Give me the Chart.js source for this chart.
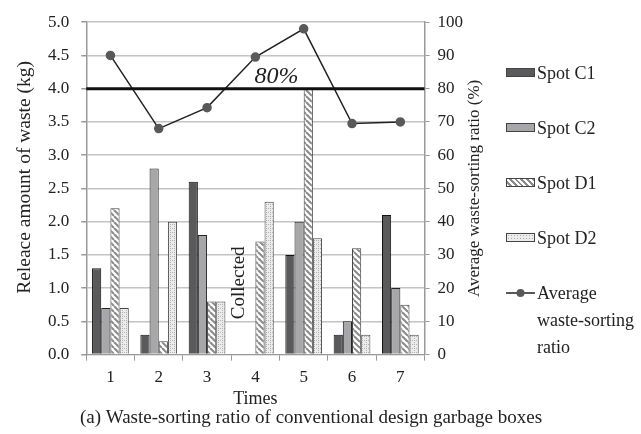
<!DOCTYPE html>
<html>
<head>
<meta charset="utf-8">
<script src="https://cdn.jsdelivr.net/npm/chart.js@4"></script>
<style>
  body { margin: 0; background: #fff; }
  #wrap { position: relative; width: 641px; height: 434px; }
  #legend { position: absolute; left: 506px; top: 0; font-family: "Liberation Serif", serif; font-size: 18px; color: #222; }
  .item { position: absolute; left: 0; white-space: nowrap; line-height: 27px; }
  .sw { display: inline-block; width: 27px; height: 7px; border: 1px solid #444; vertical-align: middle; margin-right: 2px; position: relative; top: -2px; }
</style>
</head>
<body>
<div id="wrap">
  <canvas id="myChart" width="641" height="434"></canvas>
  <div id="legend"></div>
</div>
<script>
const times = ["1", "2", "3", "4", "5", "6", "7"];
const spotC1 = [1.3, 0.3, 2.6, null, 1.5, 0.3, 2.1];
const spotC2 = [0.7, 2.8, 1.8, null, 2.0, 0.5, 1.0];
const spotD1 = [2.2, 0.2, 0.8, 1.7, 4.0, 1.6, 0.75];
const spotD2 = [0.7, 2.0, 0.8, 2.3, 1.75, 0.3, 0.3];
const sortingRatio = [90, 68, 74.3, 89.5, 98, 69.5, 70];
const targetRatio = 80;
const collectedIndex = 3;

const serif = "'Liberation Serif', 'DejaVu Serif', serif";

// patterns for the D bars
function stripePattern() {
  const c = document.createElement("canvas");
  c.width = 6; c.height = 6;
  const g = c.getContext("2d");
  g.fillStyle = "#fff";
  g.fillRect(0, 0, 6, 6);
  g.strokeStyle = "#8a8a8a";
  g.lineWidth = 2;
  for (let k = -6; k <= 6; k += 6) {
    g.beginPath();
    g.moveTo(k, 0);
    g.lineTo(k + 6, 6);
    g.stroke();
  }
  return g.createPattern(c, "repeat");
}
function dotPattern() {
  const c = document.createElement("canvas");
  c.width = 4; c.height = 4;
  const g = c.getContext("2d");
  g.fillStyle = "#ececec";
  g.fillRect(0, 0, 4, 4);
  g.fillStyle = "#b0b0b0";
  g.fillRect(0, 0, 1, 1);
  g.fillRect(2, 2, 1, 1);
  g.fillRect(2, 0, 1, 1);
  return g.createPattern(c, "repeat");
}

function rotatedText(ctx, text, x, y, font) {
  ctx.save();
  ctx.translate(x, y);
  ctx.rotate(-Math.PI / 2);
  ctx.fillStyle = "#222";
  ctx.textAlign = "center";
  ctx.textBaseline = "middle";
  ctx.font = font;
  ctx.fillText(text, 0, 0);
  ctx.restore();
}

// 80% line, notes, axis titles that Chart.js can't place the same way
const notes = {
  id: "notes",
  afterDatasetsDraw(chart) {
    const ctx = chart.ctx;
    const area = chart.chartArea;
    const midY = (area.top + area.bottom) / 2;
    const y = chart.scales.y2.getPixelForValue(targetRatio);
    ctx.save();
    ctx.strokeStyle = "#111";
    ctx.lineWidth = 3;
    ctx.beginPath();
    ctx.moveTo(area.left, y);
    ctx.lineTo(area.right, y);
    ctx.stroke();
    ctx.fillStyle = "#222";
    ctx.font = "italic 24px " + serif;
    ctx.textAlign = "center";
    ctx.textBaseline = "alphabetic";
    ctx.fillText(targetRatio + "%", chart.scales.x.getPixelForValue(3) + 21, y - 6);
    ctx.restore();

    // collected
    rotatedText(ctx, "Collected",
      chart.scales.x.getPixelForValue(collectedIndex) - 16,
      chart.scales.y.getPixelForValue(1.08), "19px " + serif);

    // axis titles, both read bottom to top
    rotatedText(ctx, "Releace amount of waste (kg)", 25, midY - 11, "19.5px " + serif);
    rotatedText(ctx, "Average waste-sorting ratio (%)", area.right + 50, midY, "17px " + serif);

    // x title and caption
    ctx.save();
    ctx.fillStyle = "#222";
    ctx.textAlign = "center";
    ctx.textBaseline = "middle";
    ctx.font = "18px " + serif;
    ctx.fillText("Times", (area.left + area.right) / 2, area.bottom + 45);
    ctx.font = "19px " + serif;
    ctx.fillText("(a) Waste-sorting ratio of conventional design garbage boxes", 311, area.bottom + 63);
    ctx.restore();
  }
};

const ctx = document.getElementById("myChart");
const d1Fill = stripePattern();
const d2Fill = dotPattern();

const chart = new Chart(ctx, {
  type: "bar",
  data: {
    labels: times,
    datasets: [
      {
        type: "line",
        label: "Average waste-sorting ratio",
        data: sortingRatio,
        yAxisID: "y2",
        borderColor: "#222",
        borderWidth: 1.5,
        pointBackgroundColor: "#595959",
        pointBorderColor: "#595959",
        pointRadius: 4,
        tension: 0,
        order: 0,
      },
      { label: "Spot C1", data: spotC1, backgroundColor: "#5a5a5c", borderColor: "#111", borderWidth: 1, yAxisID: "y", order: 1 },
      { label: "Spot C2", data: spotC2, backgroundColor: "#a7a7a9", borderColor: "#222", borderWidth: 1, yAxisID: "y", order: 1 },
      { label: "Spot D1", data: spotD1, backgroundColor: d1Fill, borderColor: "#444", borderWidth: 1, yAxisID: "y", order: 1 },
      { label: "Spot D2", data: spotD2, backgroundColor: d2Fill, borderColor: "#444", borderWidth: 1, yAxisID: "y", order: 1 },
    ],
  },
  options: {
    responsive: false,
    animation: false,
    categoryPercentage: 0.76,
    barPercentage: 1.0,
    layout: { padding: { left: 36, top: 9, right: 170, bottom: 39 } },
    plugins: {
      legend: { display: false },
      tooltip: { enabled: false },
    },
    scales: {
      x: {
        grid: { display: true, drawOnChartArea: false, drawTicks: true, tickLength: 6, color: "#999", offset: true },
        border: { color: "#999" },
        ticks: { color: "#222", font: { family: serif, size: 17 }, padding: 7 },
      },
      y: {
        position: "left",
        min: 0,
        max: 5,
        ticks: { stepSize: 0.5, color: "#222", font: { family: serif, size: 17 }, padding: 12, callback: (v) => v.toFixed(1) },
        grid: { color: "#c4c4c4", lineWidth: 1.5, tickLength: 5, tickColor: "#999" },
        border: { color: "#999", width: 1.5 },
      },
      y2: {
        position: "right",
        min: 0,
        max: 100,
        ticks: { stepSize: 10, color: "#222", font: { family: serif, size: 17 }, padding: 8 },
        grid: { drawOnChartArea: false, tickLength: 5, color: "#999" },
        border: { color: "#999", width: 1.5 },
      },
    },
  },
  plugins: [notes],
});

// legend on the right
const legendRows = [
  { text: "Spot C1", top: 60, style: "background:#5a5a5c" },
  { text: "Spot C2", top: 115, style: "background:#a7a7a9" },
  { text: "Spot D1", top: 170, style: "background:repeating-linear-gradient(45deg,#fff 0 2px,#8a8a8a 2px 4px)" },
  { text: "Spot D2", top: 225, style: "background:#ececec radial-gradient(#aaa 35%, transparent 40%) 0 0/3px 3px" },
];
const legend = document.getElementById("legend");
legendRows.forEach((r) => {
  legend.innerHTML += `<div class="item" style="top:${r.top}px"><span class="sw" style="${r.style}"></span>${r.text}</div>`;
});
legend.innerHTML += `<div class="item" style="top:280px"><svg width="29" height="10" style="vertical-align:middle;margin-right:2px;position:relative;top:-2px"><line x1="0" y1="5" x2="29" y2="5" stroke="#222" stroke-width="1.5"/><circle cx="14.5" cy="5" r="4" fill="#595959"/></svg>Average<br><span style="margin-left:31px">waste-sorting</span><br><span style="margin-left:31px">ratio</span></div>`;
</script>
</body>
</html>
